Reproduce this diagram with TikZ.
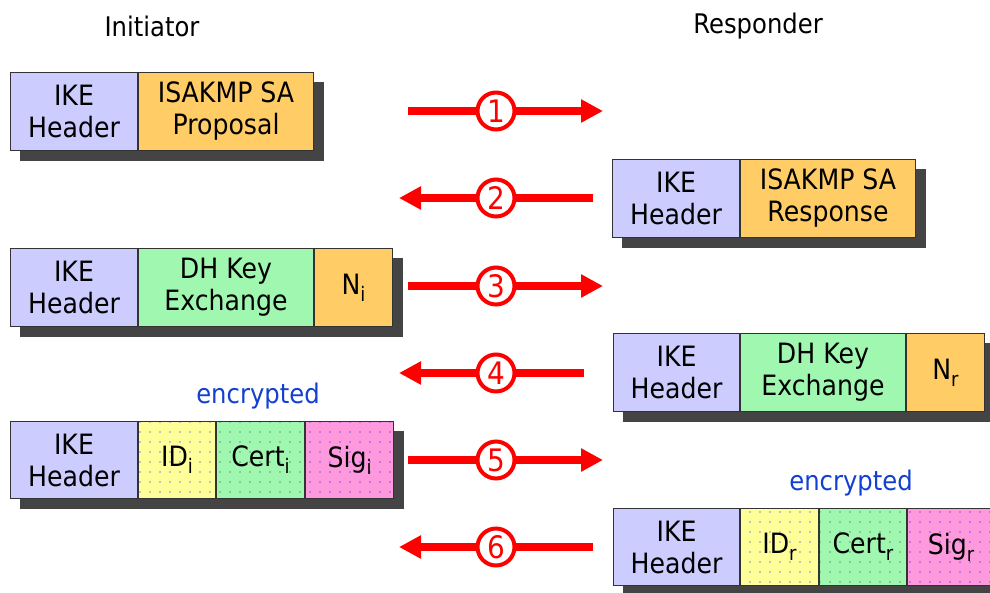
\documentclass[tikz,border=0pt]{standalone}
\usepackage{fontspec}
\setmainfont{DejaVu Sans}[FakeStretch=0.9]
\usetikzlibrary{arrows.meta,patterns.meta,backgrounds}
\definecolor{ikeC}{HTML}{CCCCFF}
\definecolor{saC}{HTML}{FFCC66}
\definecolor{dhC}{HTML}{A0F8B0}
\definecolor{idC}{HTML}{FFFF99}
\definecolor{sigC}{HTML}{FF99DD}
\definecolor{borderC}{HTML}{333333}
\definecolor{shadowC}{HTML}{444444}
\definecolor{encC}{HTML}{1240D0}
\newcommand{\sbs}[1]{\raisebox{-7pt}{\fontsize{20}{20}\selectfont #1}}
\tikzset{
  cell/.style={draw=borderC, line width=1pt, minimum height=78pt, inner sep=0pt,
    anchor=north west, align=center, font=\fontsize{28}{32}\selectfont},
  dotsblue/.style={pattern={Dots[distance=10pt,radius=0.7pt]}, pattern color=blue},
  dotsdark/.style={pattern={Dots[distance=10pt,radius=0.7pt]}, pattern color=black!80},
  shadowbox/.style={fill=shadowC},
  msg/.style={draw=red, line width=8pt, -{Triangle[length=22pt,width=22pt]}},
  numc/.style={circle, draw=red, fill=white, line width=4pt, minimum size=37pt,
    inner sep=0pt, text=red, font=\fontsize{31}{31}\selectfont},
  title/.style={font=\fontsize{27}{32}\selectfont},
  enc/.style={text=encC, font=\fontsize{27}{32}\selectfont}
}
\begin{document}
\begin{tikzpicture}[x=1pt,y=-1pt]
\useasboundingbox (0,0) rectangle (990,592);
% titles
\node[title] (ini) at (152,26) {Initiator};
\node[title] (res) at (758,26) {Responder};
% row 1 (left)
\node[cell, fill=ikeC, minimum width=127pt] (r1a) at (10,72) {IKE\\Header};
\node[cell, fill=saC, minimum width=175pt] (r1b) at (r1a.north east) {ISAKMP SA\\Proposal};
% row 2 (right)
\node[cell, fill=ikeC, minimum width=127pt] (r2a) at (612,159) {IKE\\Header};
\node[cell, fill=saC, minimum width=175pt] (r2b) at (r2a.north east) {ISAKMP SA\\Response};
% row 3 (left)
\node[cell, fill=ikeC, minimum width=127pt] (r3a) at (10,248) {IKE\\Header};
\node[cell, fill=dhC, minimum width=175pt] (r3b) at (r3a.north east) {DH Key\\Exchange};
\node[cell, fill=saC, minimum width=78pt] (r3c) at (r3b.north east) {N\sbs{i}};
% row 4 (right)
\node[cell, fill=ikeC, minimum width=126pt] (r4a) at (613,333) {IKE\\Header};
\node[cell, fill=dhC, minimum width=165pt] (r4b) at (r4a.north east) {DH Key\\Exchange};
\node[cell, fill=saC, minimum width=78pt] (r4c) at (r4b.north east) {N\sbs{r}};
% row 5 (left)
\node[enc] (enc1) at (258,396) {encrypted};
\node[cell, fill=ikeC, minimum width=127pt, minimum height=77pt] (r5a) at (10,421) {IKE\\Header};
\node[cell, preaction={fill=idC}, dotsblue, minimum width=77pt, minimum height=77pt] (r5b) at (r5a.north east) {ID\sbs{i}};
\node[cell, preaction={fill=dhC}, dotsdark, minimum width=88pt, minimum height=77pt] (r5c) at (r5b.north east) {Cert\sbs{i}};
\node[cell, preaction={fill=sigC}, dotsblue, minimum width=88pt, minimum height=77pt] (r5d) at (r5c.north east) {Sig\sbs{i}};
% row 6 (right)
\node[enc] (enc2) at (851,483) {encrypted};
\node[cell, fill=ikeC, minimum width=126pt, minimum height=77pt] (r6a) at (613,508) {IKE\\Header};
\node[cell, preaction={fill=idC}, dotsblue, minimum width=78pt, minimum height=77pt] (r6b) at (r6a.north east) {ID\sbs{r}};
\node[cell, preaction={fill=dhC}, dotsdark, minimum width=87pt, minimum height=77pt] (r6c) at (r6b.north east) {Cert\sbs{r}};
\node[cell, preaction={fill=sigC}, dotsblue, minimum width=87pt, minimum height=77pt] (r6d) at (r6c.north east) {Sig\sbs{r}};
% shadows
\begin{scope}[on background layer]
  \fill[shadowbox] ([shift={(10,10)}]r1a.north west) rectangle ([shift={(10,10)}]r1b.south east);
  \fill[shadowbox] ([shift={(10,10)}]r2a.north west) rectangle ([shift={(10,10)}]r2b.south east);
  \fill[shadowbox] ([shift={(10,10)}]r3a.north west) rectangle ([shift={(10,10)}]r3c.south east);
  \fill[shadowbox] ([shift={(10,10)}]r4a.north west) rectangle ([shift={(10,10)}]r4c.south east);
  \fill[shadowbox] ([shift={(10,10)}]r5a.north west) rectangle ([shift={(10,10)}]r5d.south east);
  \fill[shadowbox] ([shift={(10,10)}]r6a.north west) rectangle ([shift={(10,10)}]r6d.south east);
\end{scope}
% arrows
\coordinate (s1) at (408,111); \coordinate (e1) at (603,111);
\coordinate (s2) at (593,198); \coordinate (e2) at (399,198);
\coordinate (s3) at (408,286); \coordinate (e3) at (603,286);
\coordinate (s4) at (584,373); \coordinate (e4) at (399,373);
\coordinate (s5) at (408,460); \coordinate (e5) at (603,460);
\coordinate (s6) at (593,547); \coordinate (e6) at (399,547);
\draw[msg] (s1) -- (e1);
\draw[msg] (s2) -- (e2);
\draw[msg] (s3) -- (e3);
\draw[msg] (s4) -- (e4);
\draw[msg] (s5) -- (e5);
\draw[msg] (s6) -- (e6);
\node[numc] (n1) at (496,111) {1};
\node[numc] (n2) at (496,198) {2};
\node[numc] (n3) at (496,286) {3};
\node[numc] (n4) at (496,373) {4};
\node[numc] (n5) at (496,460) {5};
\node[numc] (n6) at (496,547) {6};
\end{tikzpicture}
\end{document}
